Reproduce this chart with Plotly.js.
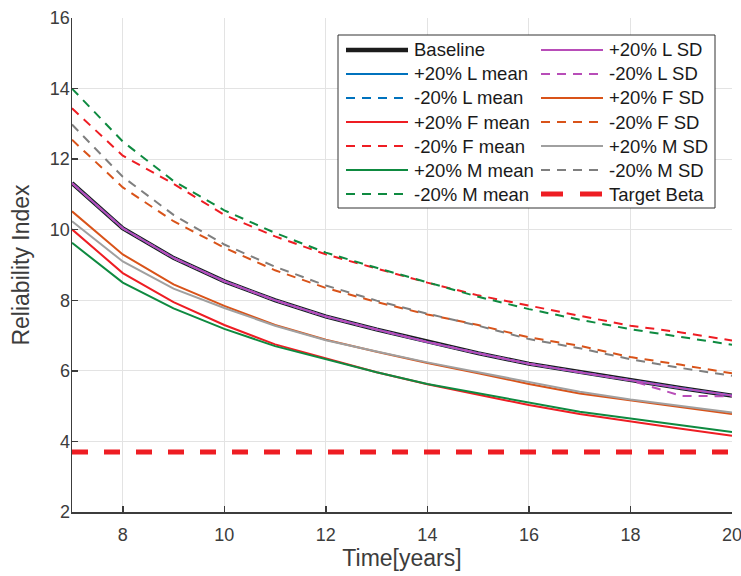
<!DOCTYPE html>
<html>
<head>
<meta charset="utf-8">
<script src="https://cdn.plot.ly/plotly-3.0.1.min.js"></script>
<style>html,body{margin:0;padding:0;background:#fff;}#chart{width:741px;height:576px;}</style>
</head>
<body>
<div id="chart"></div>
<script>
const years = [7, 8, 9, 10, 11, 12, 13, 14, 15, 16, 17, 18, 19, 20];
const baseline   = [11.32, 10.04, 9.20, 8.54, 8.00, 7.54, 7.17, 6.82, 6.50, 6.20, 5.96, 5.73, 5.51, 5.30];
const plusLMean  = [11.32, 10.04, 9.20, 8.54, 8.00, 7.54, 7.17, 6.82, 6.50, 6.20, 5.96, 5.73, 5.51, 5.30];
const minusLMean = [11.32, 10.04, 9.20, 8.54, 8.00, 7.54, 7.17, 6.82, 6.50, 6.20, 5.96, 5.73, 5.51, 5.30];
const plusFMean  = [10.01, 8.77, 7.95, 7.30, 6.75, 6.36, 5.96, 5.62, 5.33, 5.03, 4.78, 4.56, 4.36, 4.16];
const minusFMean = [13.44, 12.10, 11.30, 10.42, 9.81, 9.30, 8.90, 8.50, 8.14, 7.84, 7.56, 7.28, 7.09, 6.86];
const plusMMean  = [9.63, 8.50, 7.77, 7.19, 6.70, 6.34, 5.96, 5.63, 5.36, 5.10, 4.84, 4.65, 4.46, 4.27];
const minusMMean = [14.00, 12.50, 11.38, 10.55, 9.91, 9.35, 8.92, 8.50, 8.10, 7.75, 7.45, 7.18, 6.96, 6.74];
const plusLSD    = [11.32, 10.04, 9.20, 8.54, 8.00, 7.54, 7.17, 6.82, 6.50, 6.20, 5.96, 5.73, 5.51, 5.30];
const minusLSD   = [11.32, 10.04, 9.20, 8.54, 8.00, 7.54, 7.17, 6.82, 6.50, 6.20, 5.96, 5.73, 5.29, 5.28];
const plusFSD    = [10.52, 9.30, 8.45, 7.84, 7.30, 6.88, 6.54, 6.22, 5.93, 5.63, 5.36, 5.16, 4.96, 4.78];
const minusFSD   = [12.55, 11.20, 10.24, 9.49, 8.85, 8.35, 7.95, 7.60, 7.30, 6.95, 6.71, 6.39, 6.17, 5.93];
const plusMSD    = [10.24, 9.10, 8.33, 7.78, 7.28, 6.87, 6.55, 6.24, 5.96, 5.68, 5.41, 5.19, 5.00, 4.82];
const minusMSD   = [12.98, 11.50, 10.42, 9.58, 8.95, 8.42, 7.99, 7.62, 7.28, 6.90, 6.64, 6.33, 6.08, 5.86];
const targetBeta = [3.7, 3.7, 3.7, 3.7, 3.7, 3.7, 3.7, 3.7, 3.7, 3.7, 3.7, 3.7, 3.7, 3.7];

const xTicks = [8, 10, 12, 14, 16, 18, 20];
const yTicks = [2, 4, 6, 8, 10, 12, 14, 16];

// plot area geometry (px)
const W = 741, H = 576, ML = 72, MR = 9, MT = 18, MB = 64;
const PW = W - ML - MR, PH = H - MT - MB;
const px2x = p => (p - ML) / PW;
const px2y = p => (H - MB - p) / PH;

const DASH = '9px,7px';
// series: name, data, color, width, dash, legend column, legend row, legend dash, legend width
const series = [
  ['Baseline', baseline, '#1c1c1c', 4.2, 'solid', 0, 0, 'solid', 4.5],
  ['+20% L mean', plusLMean, '#0072BD', 2, 'solid', 0, 1, 'solid', 2],
  ['-20% L mean', minusLMean, '#0072BD', 2, DASH, 0, 2, DASH, 2],
  ['+20% F mean', plusFMean, '#EE1D23', 2, 'solid', 0, 3, 'solid', 2],
  ['-20% F mean', minusFMean, '#EE1D23', 2, DASH, 0, 4, DASH, 2],
  ['+20% M mean', plusMMean, '#0E8A40', 2, 'solid', 0, 5, 'solid', 2],
  ['-20% M mean', minusMMean, '#0E8A40', 2, DASH, 0, 6, DASH, 2],
  ['+20% L SD', plusLSD, '#B84DB8', 2, 'solid', 1, 0, 'solid', 2],
  ['-20% L SD', minusLSD, '#B84DB8', 2, DASH, 1, 1, DASH, 2],
  ['+20% F SD', plusFSD, '#D95319', 2, 'solid', 1, 2, 'solid', 2],
  ['-20% F SD', minusFSD, '#D95319', 2, DASH, 1, 3, DASH, 2],
  ['+20% M SD', plusMSD, '#A0A0A0', 2, 'solid', 1, 4, 'solid', 2],
  ['-20% M SD', minusMSD, '#7F7F7F', 2, DASH, 1, 5, DASH, 2],
  ['Target Beta', targetBeta, '#EE1D23', 4.8, '16px,16px', 1, 6, '22px,17px', 4.8]
];

const traces = series.map(s => ({
  x: years, y: s[1], name: s[0], type: 'scatter', mode: 'lines',
  line: {color: s[2], width: s[3], dash: s[4]}, showlegend: false
}));

const FONT = 'Liberation Sans, Arial, sans-serif';
// legend box + entries
const colSample = [[346, 408], [541, 603]];
const colText = [412, 607];
const rowY0 = 50, rowStep = 24;
const shapes = [{
  type: 'rect', xref: 'paper', yref: 'paper',
  x0: px2x(338), x1: px2x(715), y0: px2y(208), y1: px2y(35),
  line: {color: '#333333', width: 1}, fillcolor: '#ffffff', layer: 'above'
}];
const annotations = [];
series.forEach(s => {
  const col = s[5], row = s[6];
  const yy = px2y(rowY0 + row * rowStep);
  shapes.push({
    type: 'line', xref: 'paper', yref: 'paper', layer: 'above',
    x0: px2x(colSample[col][0]), x1: px2x(colSample[col][1]), y0: yy, y1: yy,
    line: {color: s[2], width: s[8], dash: s[7]}
  });
  annotations.push({
    xref: 'paper', yref: 'paper', x: px2x(colText[col]), y: yy,
    xanchor: 'left', yanchor: 'middle', showarrow: false, text: s[0],
    font: {family: FONT, size: 18.5, color: '#1a1a1a'}
  });
});

const layout = {
  width: W, height: H,
  margin: {l: ML, r: MR, t: MT, b: MB},
  paper_bgcolor: '#ffffff', plot_bgcolor: '#ffffff',
  font: {family: FONT, color: '#3c3c3c'},
  showlegend: false,
  xaxis: {
    range: [7, 20], tickvals: xTicks, ticktext: xTicks.map(String),
    showgrid: true, gridcolor: '#e3e3e3', gridwidth: 1,
    showline: true, linecolor: '#3c3c3c', linewidth: 1.5, mirror: false,
    ticks: 'inside', ticklen: 6, tickcolor: '#3c3c3c', tickwidth: 1.5,
    tickfont: {family: FONT, size: 18, color: '#3c3c3c'},
    ticklabeloverflow: 'allow', ticklabelstandoff: 6,
    zeroline: false,
    title: {text: 'Time[years]', font: {family: FONT, size: 23, color: '#3c3c3c'}, standoff: 6}
  },
  yaxis: {
    range: [2, 16], tickvals: yTicks, ticktext: yTicks.map(String),
    showgrid: true, gridcolor: '#e3e3e3', gridwidth: 1,
    showline: true, linecolor: '#3c3c3c', linewidth: 1.5, mirror: false,
    ticks: 'inside', ticklen: 6, tickcolor: '#3c3c3c', tickwidth: 1.5,
    tickfont: {family: FONT, size: 18, color: '#3c3c3c'},
    ticklabeloverflow: 'allow', ticklabelstandoff: -3,
    zeroline: false,
    title: {text: 'Reliability Index', font: {family: FONT, size: 23, color: '#3c3c3c'}, standoff: 14}
  },
  shapes: shapes,
  annotations: annotations
};
Plotly.newPlot('chart', traces, layout, {staticPlot: true, displayModeBar: false});
</script>
</body>
</html>
